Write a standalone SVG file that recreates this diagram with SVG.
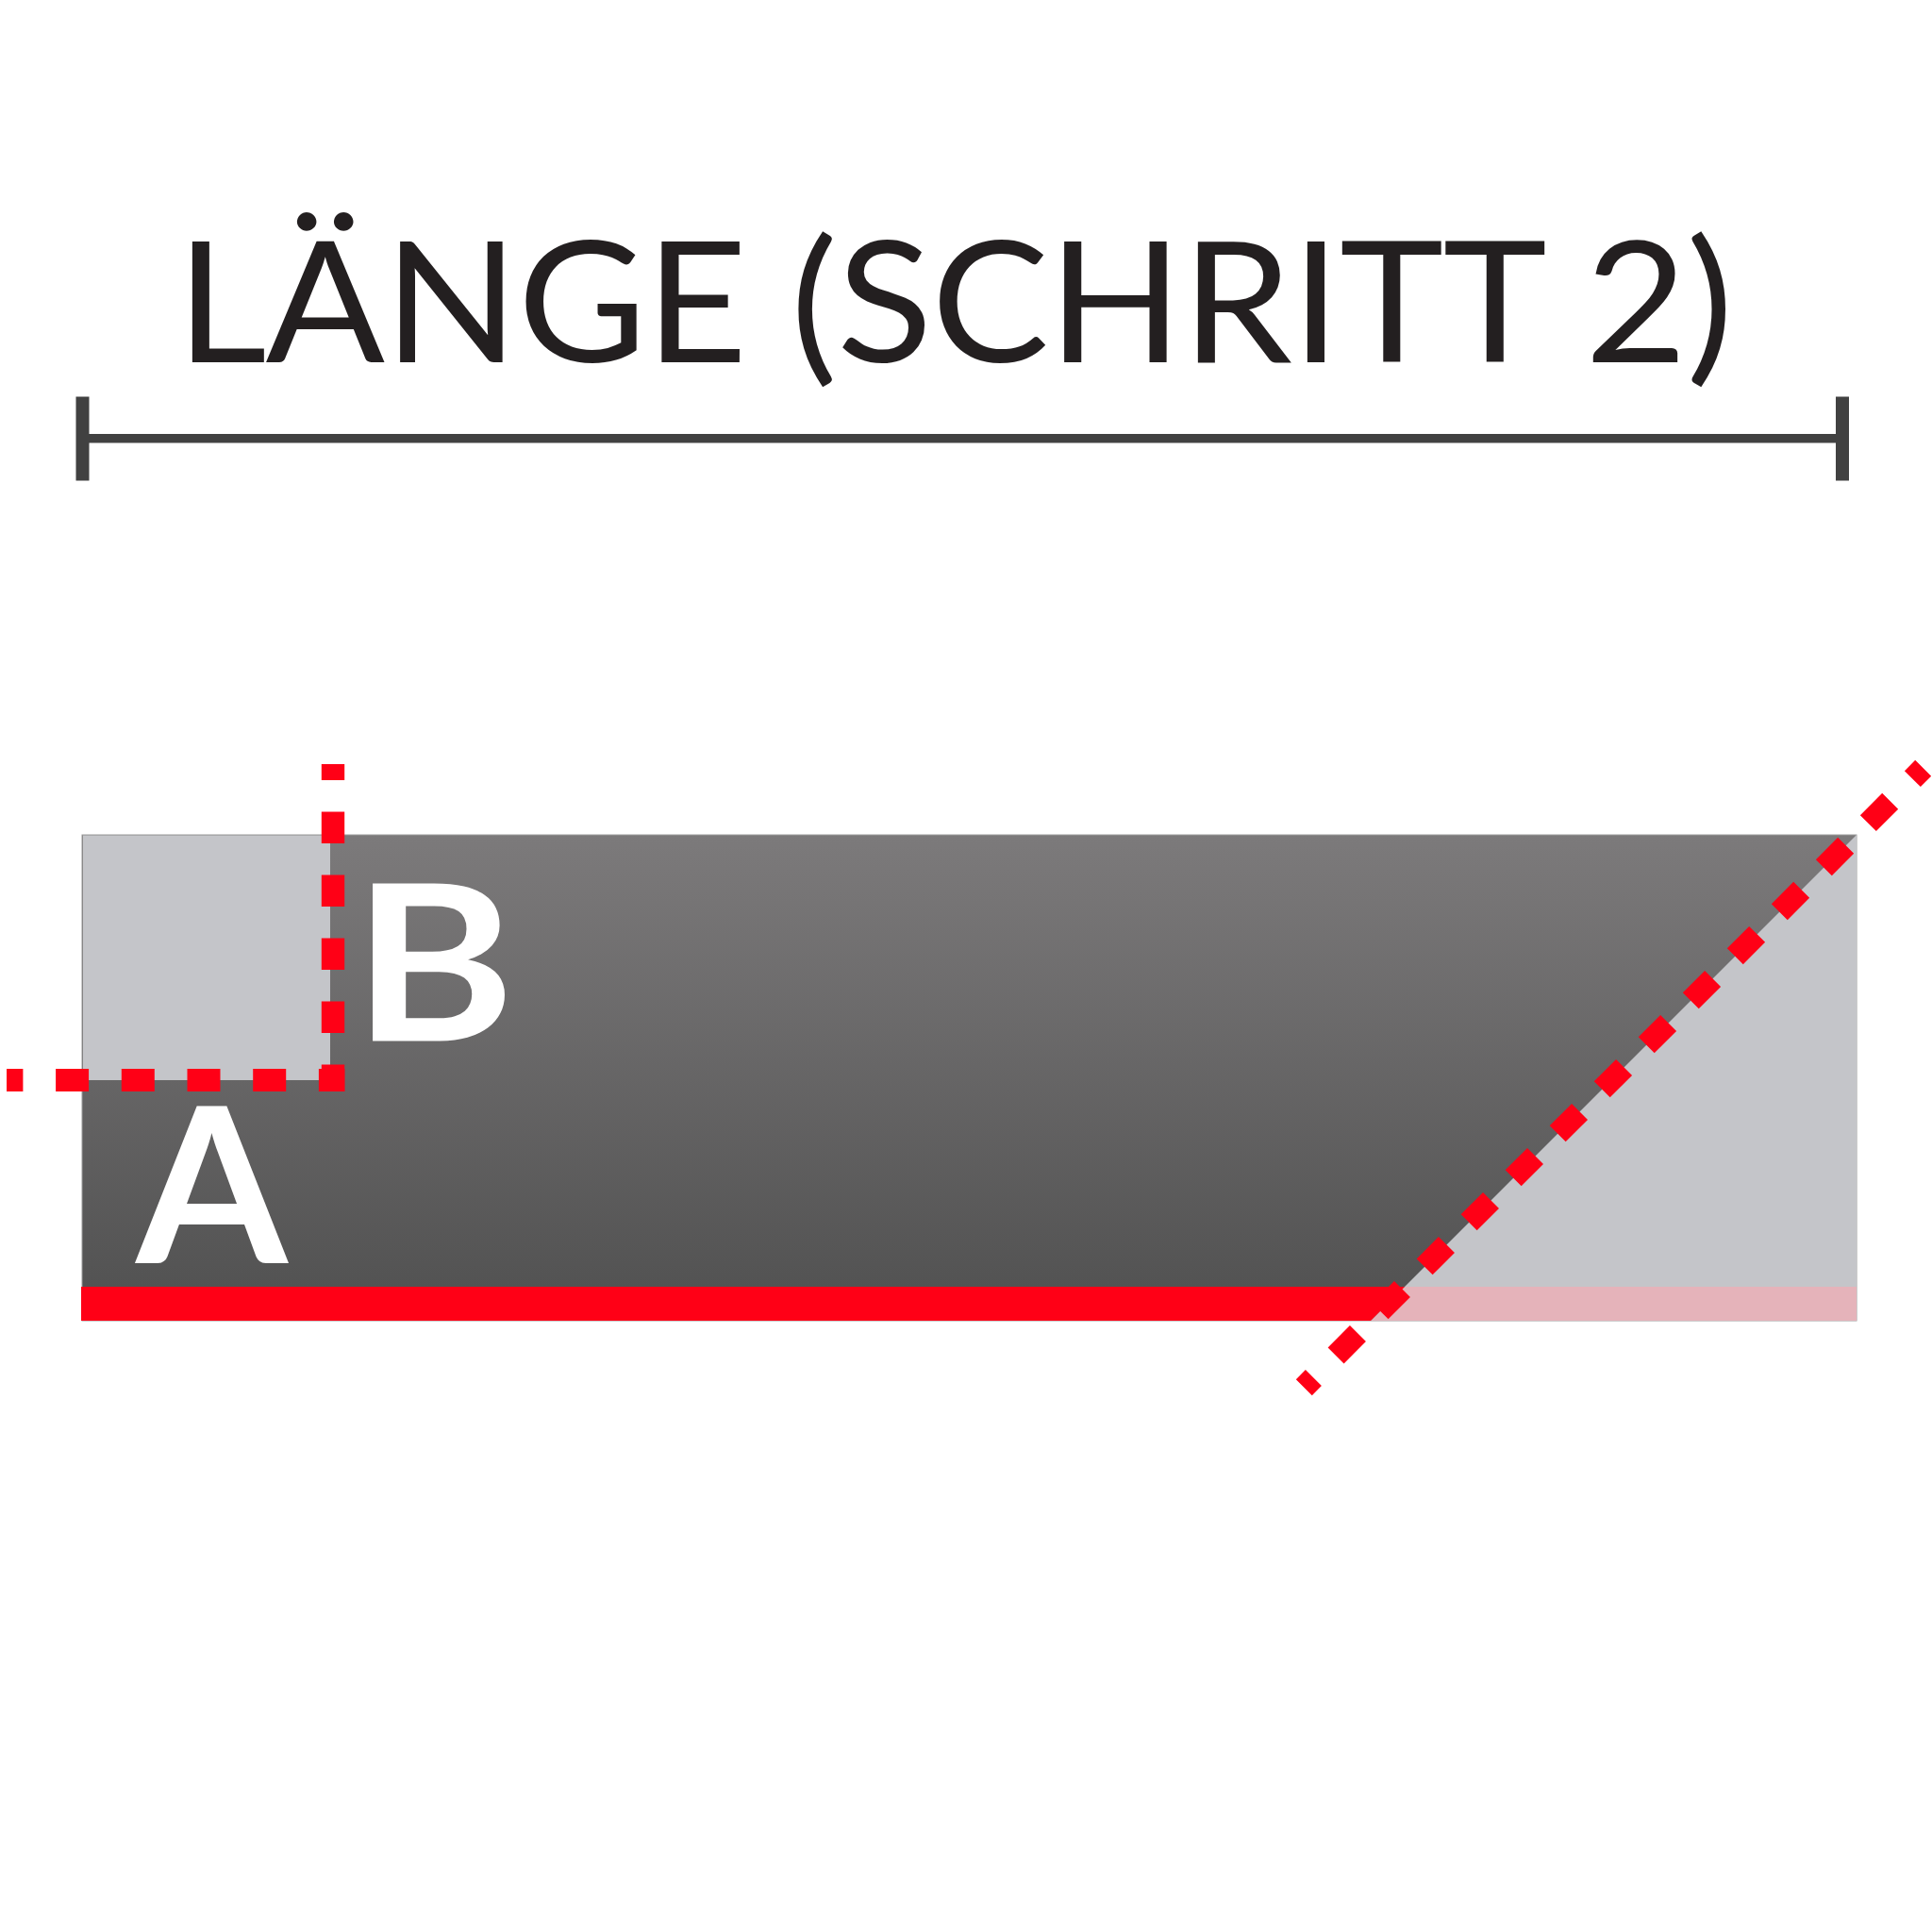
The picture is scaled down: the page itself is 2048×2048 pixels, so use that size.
<svg xmlns="http://www.w3.org/2000/svg" width="2048" height="2048" viewBox="0 0 2048 2048">
<style>
.title{font-family:Lato,"Noto Sans","DejaVu Sans",sans-serif;font-size:178px;fill:#231f20}
.lbl{font-family:Lato,"Noto Sans","DejaVu Sans",sans-serif;font-weight:700;font-size:231px;fill:#ffffff}
.dim{fill:#414141}
.red{fill:#ff0016}
.dash{stroke:#ff0016;fill:none}
</style>
<defs>
<linearGradient id="darkGrad" x1="0" y1="0" x2="0" y2="1">
<stop offset="0" stop-color="#7c7a7b"/>
<stop offset="1" stop-color="#505050"/>
</linearGradient>
</defs>
<rect width="2048" height="2048" fill="#ffffff"/>
<g id="title">
<text class="title" transform="scale(1.05,1)" x="963.8" y="384" text-anchor="middle" textLength="1572" lengthAdjust="spacing">LÄNGE (SCHRITT 2)</text>
</g>
<g id="dimension">
<rect class="dim" x="80.5" y="420.5" width="14" height="89"/>
<rect class="dim" x="1946" y="420.5" width="14" height="89"/>
<rect class="dim" x="94" y="460" width="1852" height="9.5"/>
</g>
<g id="bar">
<rect x="87" y="885" width="1881" height="515" fill="url(#darkGrad)" stroke="#9a9a9a" stroke-width="1"/>
<rect id="square-b" x="88" y="885.5" width="262" height="259.5" fill="#c4c5c9"/>
<polygon id="triangle" points="1968,885 1968,1400 1453,1400" fill="#c4c5c9"/>
<polygon id="pink-bar" points="1489,1364 1968,1364 1968,1400 1453,1400" fill="#e5b3ba"/>
<polygon id="red-bar" class="red" points="86,1364 1489,1364 1453,1400 86,1400"/>
</g>
<g id="connectors">
<line class="dash" x1="353" y1="810" x2="353" y2="1157" stroke-width="24.4" stroke-dasharray="33.5 33.5" stroke-dashoffset="16.5"/>
<line class="dash" x1="7" y1="1145" x2="365.4" y2="1145" stroke-width="24" stroke-dasharray="35 34.7" stroke-dashoffset="17.6"/>
<line class="dash" x1="2038.7" y1="814.3" x2="1382.3" y2="1470.7" stroke-width="24" stroke-dasharray="33 33.5" stroke-dashoffset="17"/>
</g>
<g id="label-a">
<text class="lbl" x="224.5" y="1339" text-anchor="middle">A</text>
</g>
<g id="label-b">
<text class="lbl" transform="translate(460,0) scale(1.13,1)" x="0" y="1103.5" text-anchor="middle">B</text>
</g>
</svg>
